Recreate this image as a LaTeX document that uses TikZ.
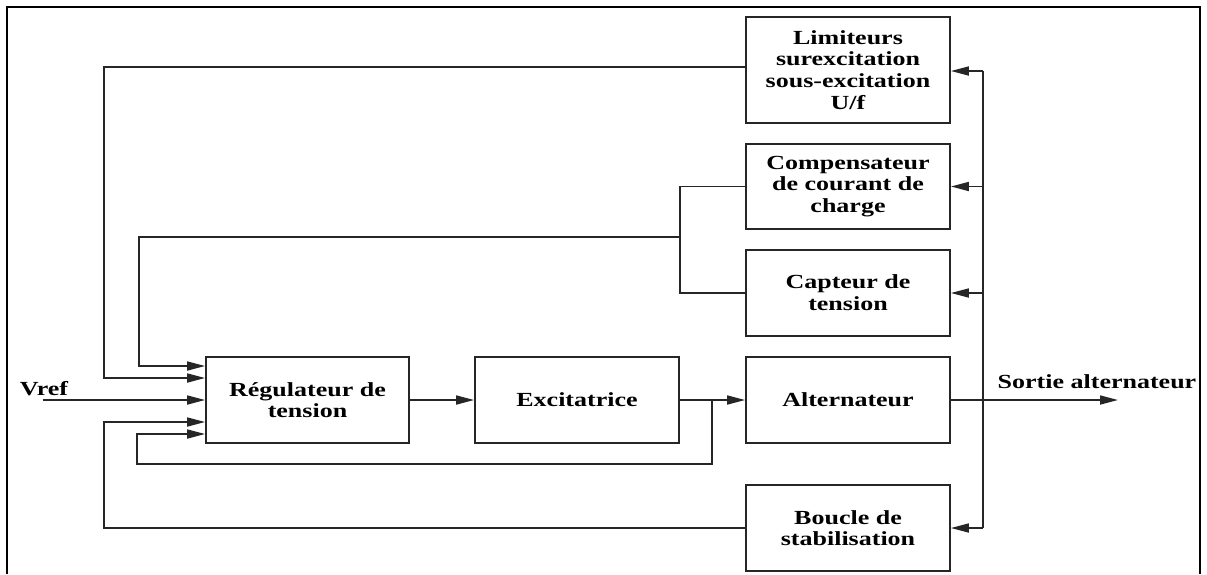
\documentclass[tikz,border=0pt]{standalone}
\usepackage{fontspec}
\setmainfont{Liberation Serif}[FakeStretch=1.3]
\usetikzlibrary{arrows.meta}
\begin{document}
\begin{tikzpicture}[x=1pt,y=-1pt,
  every node/.style={font=\fontsize{20}{21.7}\selectfont\bfseries},
  blockbox/.style={draw=black!85,line width=1.8pt,minimum width=204pt,align=center,inner sep=0pt},
  wire/.style={draw=black!85,line width=1.7pt},
  arr/.style={wire,-{Triangle[length=18pt,width=9pt]}}]
\useasboundingbox (0,0) rectangle (1207,574);
% open frame
\draw[line width=2.2pt] (7,574) -- (7,7) -- (1200,7) -- (1200,574);

% blocks
\node[blockbox,minimum height=106pt] (lim)  at (848,70)    {Limiteurs\\surexcitation\\sous-excitation\\U/f};
\node[blockbox,minimum height=85pt]  (comp) at (848,186.5) {Compensateur\\de courant de\\charge};
\node[blockbox,minimum height=86pt]  (capt) at (848,293)   {Capteur de\\tension};
\node[blockbox,minimum height=86pt]  (alt)  at (848,400)   {Alternateur};
\node[blockbox,minimum height=86pt]  (bou)  at (848,528)   {Boucle de\\stabilisation};
\node[blockbox,minimum width=203pt,minimum height=86pt] (reg) at (307.5,400) {Régulateur de\\tension};
\node[blockbox,minimum height=86pt]  (exc)  at (577,400)   {Excitatrice};

% labels
\node (vref) at (44,389) {Vref};
\node (sortie) at (1097,382) {Sortie alternateur};

% forward path
\coordinate (vin) at (43,400);
\coordinate (out) at (1118,400);
\coordinate (jx) at (712,400);
\draw[arr] (vin) -- (reg.west);
\draw[arr] (reg.east) -- (exc.west);
\draw[arr] (exc.east) -- (alt.west);
\draw[arr] (alt.east) -- (out);

% measurement bus on the right
\coordinate (busT) at (983,71);
\coordinate (busB) at (983,528);
\draw[wire] (busT) -- (busB);
\draw[arr] (busT) -- (lim.east |- busT);
\draw[arr] (comp.east -| busT) -- (comp.east);
\draw[arr] (capt.east -| busT) -- (capt.east);
\draw[arr] (busB) -- (bou.east);

% limiter feedback
\draw[arr] ([yshift=3pt]lim.west) -- (104,67) -- (104,378) -- ([yshift=22pt]reg.west);

% compensator and sensor merged
\coordinate (jc) at (680,237);
\draw[wire] (comp.west) -- (680,186.5) -- (680,293) -- (capt.west);
\draw[arr] (jc) -- (139,237) -- (139,366) -- ([yshift=34pt]reg.west);

% stabiliser feedback
\draw[arr] (bou.west) -- (104,528) -- (104,422) -- ([yshift=-22pt]reg.west);

% exciter output feedback
\draw[arr] (jx) -- (712,464) -- (137,464) -- (137,434) -- ([yshift=-34pt]reg.west);
\end{tikzpicture}
\end{document}
